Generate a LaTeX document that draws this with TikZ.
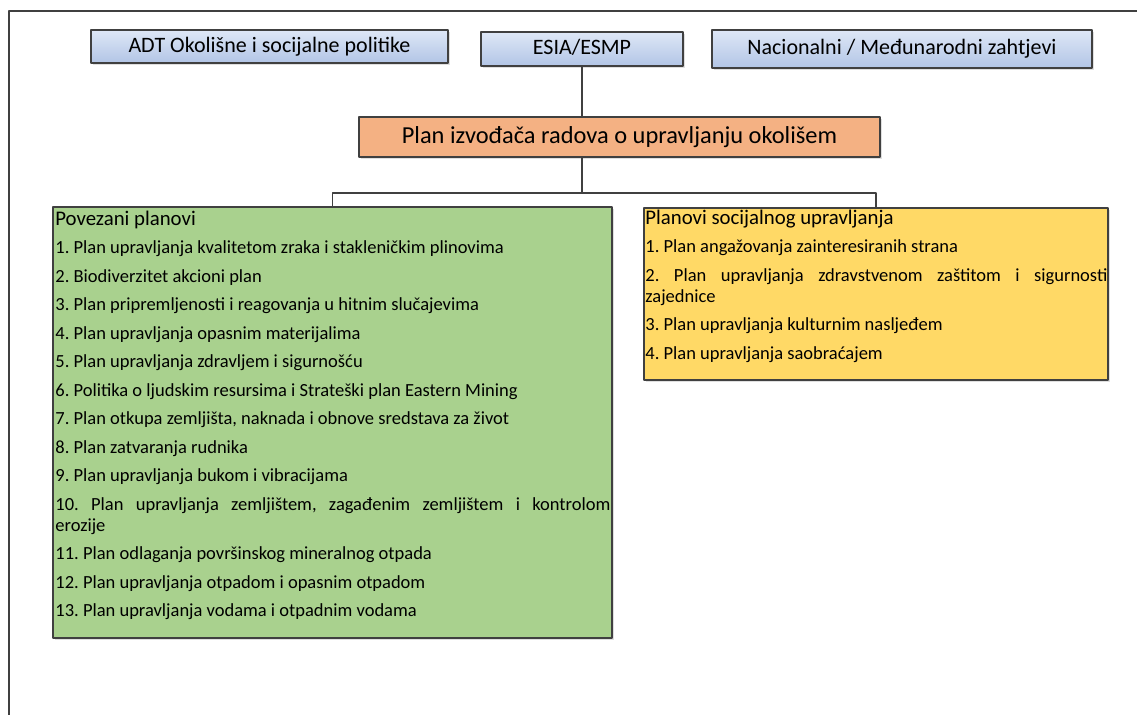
\documentclass[tikz,border=0pt]{standalone}
\usepackage{fontspec}
\setmainfont{Carlito}
\usetikzlibrary{shadows}
\definecolor{blueA}{HTML}{DEE7F6}
\definecolor{blueB}{HTML}{B2C5E6}
\definecolor{planorange}{HTML}{F4B183}
\definecolor{plangreen}{HTML}{A9D18E}
\definecolor{planyellow}{HTML}{FFD966}
\definecolor{edgegray}{HTML}{404040}
\newcommand{\listsetup}{\frenchspacing\setlength{\parindent}{0pt}\setlength{\parskip}{3.75pt}\hyphenpenalty=10000\exhyphenpenalty=10000\tolerance=9999}
\newcommand{\headfont}{\fontsize{10.4}{12}\selectfont}
\begin{document}
\begin{tikzpicture}[x=0.5pt, y=-0.5pt, line join=round, line cap=round,
	box/.style={draw=edgegray, line width=0.8pt, inner sep=0pt, drop shadow={shadow xshift=0.8pt, shadow yshift=-0.8pt, opacity=0.25}},
	source/.style={box, top color=blueA, bottom color=blueB, text height=1.55ex, text depth=0.3ex, font=\fontsize{11}{13}\selectfont},
	listtext/.style={anchor=north west, inner sep=0pt, align=justify, font=\fontsize{9.25}{10.5}\selectfont},
	link/.style={draw=edgegray, line width=0.8pt}]
		\useasboundingbox (0,0) rectangle (1137,715);
		\draw[link] (1137,11)--(9,11)--(9,715);
		\node[source, minimum width=178.5pt, minimum height=16.5pt] (adt) at (269.5,46.5) {ADT Okolišne i socijalne politike};
		\node[source, minimum width=101pt, minimum height=17pt] (esia) at (582,49) {ESIA/ESMP};
		\node[source, minimum width=190pt, minimum height=19pt] (nac) at (902,49) {Nacionalni / Međunarodni zahtjevi};
		\node[box, fill=planorange, minimum width=260.5pt, minimum height=20pt, font=\fontsize{12.2}{14}\selectfont] (plan) at (619.5,137) {Plan izvođača radova o upravljanju okolišem};
		\node[box, fill=plangreen, minimum width=279.5pt, minimum height=215.5pt] (linked) at (332.5,422.5) {};
		\node[box, fill=planyellow, minimum width=232pt, minimum height=86pt] (social) at (876,294) {};
		\draw[link] (esia.south)--(esia.south |- plan.north);
		\draw[link] (esia.south |- plan.south)--++(0,35) coordinate(split);
		\draw[link] (linked.north) |- (split) -| (social.north);
		\node[listtext, text width=277.5pt] (linkedtext) at (55,210.5) {\listsetup
			{\headfont Povezani planovi\par}
			1. Plan upravljanja kvalitetom zraka i stakleničkim plinovima\par
			2. Biodiverzitet akcioni plan\par
			3. Plan pripremljenosti i reagovanja u hitnim slučajevima\par
			4. Plan upravljanja opasnim materijalima\par
			5. Plan upravljanja zdravljem i sigurnošću\par
			6. Politika o ljudskim resursima i Strateški plan Eastern Mining\par
			7. Plan otkupa zemljišta, naknada i obnove sredstava za život\par
			8. Plan zatvaranja rudnika\par
			9. Plan upravljanja bukom i vibracijama\par
			10. Plan upravljanja zemljištem, zagađenim zemljištem i kontrolom\linebreak erozije\par
			11. Plan odlaganja površinskog mineralnog otpada\par
			12. Plan upravljanja otpadom i opasnim otpadom\par
			13. Plan upravljanja vodama i otpadnim vodama};
		\node[listtext, text width=231pt] (socialtext) at (645,209.5) {\listsetup
			{\headfont Planovi socijalnog upravljanja\par}
			1. Plan angažovanja zainteresiranih strana\par
			2. Plan upravljanja zdravstvenom zaštitom i sigurnosti zajednice\par
			3. Plan upravljanja kulturnim nasljeđem\par
			4. Plan upravljanja saobraćajem};
\end{tikzpicture}
\end{document}
